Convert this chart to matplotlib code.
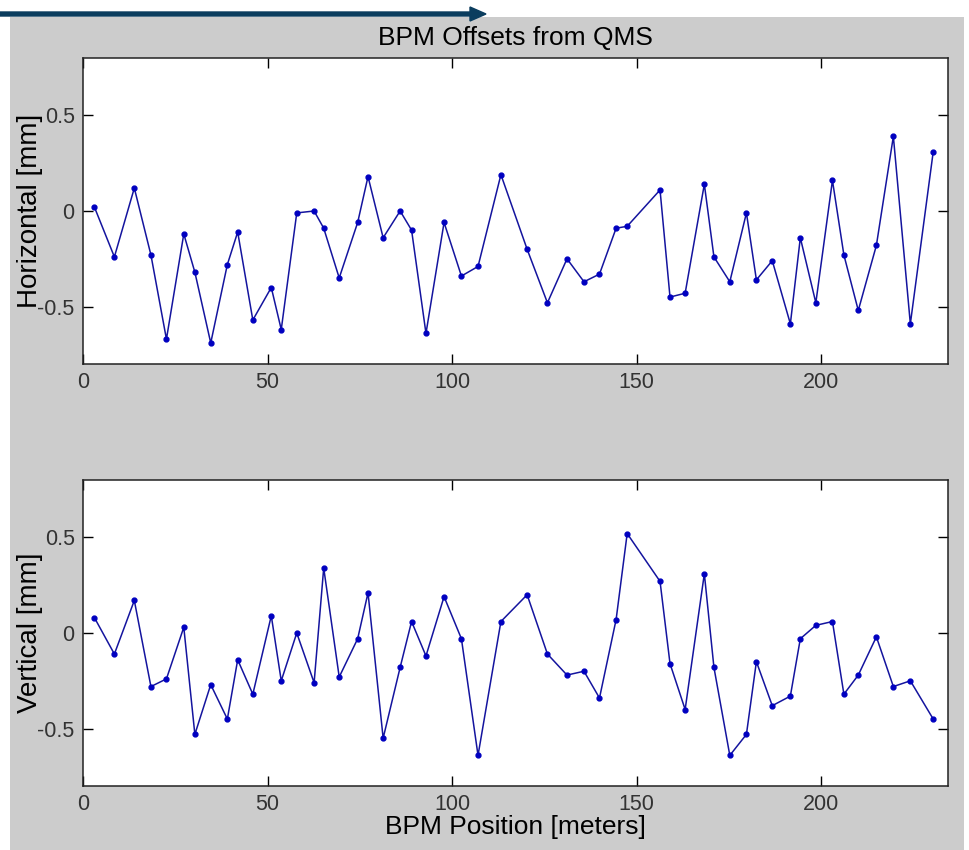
import numpy as np
import matplotlib
matplotlib.use('Agg')
import matplotlib.pyplot as plt
from matplotlib.patches import Rectangle, FancyArrow

plt.rcParams['font.family'] = ['Liberation Sans', 'DejaVu Sans']

# BPM positions along the line [m]
bpm_pos = [3.1, 8.5, 13.9, 18.4, 22.6, 27.3, 30.3, 34.6, 39.1, 41.9,
           46.0, 51.0, 53.7, 57.9, 62.6, 65.2, 69.4, 74.4, 77.2, 81.3,
           85.9, 89.0, 92.9, 97.8, 102.5, 107.0, 113.2, 120.3, 125.8, 131.1,
           135.7, 139.9, 144.4, 147.4, 156.3, 159.0, 163.1, 168.3, 170.9, 175.2,
           179.7, 182.4, 186.7, 191.6, 194.3, 198.5, 203.0, 206.1, 210.0, 214.9,
           219.5, 224.1, 230.3]

# offsets from quad shunting [mm]
horiz = [0.02, -0.24, 0.12, -0.23, -0.67, -0.12, -0.32, -0.69, -0.28, -0.11,
         -0.57, -0.40, -0.62, -0.01, 0.00, -0.09, -0.35, -0.06, 0.18, -0.14,
         0.00, -0.10, -0.64, -0.06, -0.34, -0.29, 0.19, -0.20, -0.48, -0.25,
         -0.37, -0.33, -0.09, -0.08, 0.11, -0.45, -0.43, 0.14, -0.24, -0.37,
         -0.01, -0.36, -0.26, -0.59, -0.14, -0.48, 0.16, -0.23, -0.52, -0.18,
         0.39, -0.59, 0.31]

vert = [0.08, -0.11, 0.17, -0.28, -0.24, 0.03, -0.53, -0.27, -0.45, -0.14,
        -0.32, 0.09, -0.25, 0.00, -0.26, 0.34, -0.23, -0.03, 0.21, -0.55,
        -0.18, 0.06, -0.12, 0.19, -0.03, -0.64, 0.06, 0.20, -0.11, -0.22,
        -0.20, -0.34, 0.07, 0.52, 0.27, -0.16, -0.40, 0.31, -0.18, -0.64,
        -0.53, -0.15, -0.38, -0.33, -0.03, 0.04, 0.06, -0.32, -0.22, -0.02,
        -0.28, -0.25, -0.45]

fig = plt.figure(figsize=(9.7, 8.5), dpi=100)
fig.patch.set_facecolor('white')

# gray matlab-style window background, behind the axes
bg = Rectangle((10/970, 0), 954/970, 1 - 17/850, transform=fig.transFigure,
               facecolor='#cccccc', edgecolor='none', zorder=-5)
fig.patches.append(bg)
# arrow across the top
arr = FancyArrow(0, 1 - 14/850, 470/970, 0, width=4/850, head_width=14/850,
                 head_length=16/970, transform=fig.transFigure,
                 color='#0b3d5e', zorder=-4)
fig.patches.append(arr)

ax1 = fig.add_axes([83/970, 1 - 364/850, 865/970, 306/850])
ax2 = fig.add_axes([83/970, 1 - 786/850, 865/970, 306/850])

for ax, y, lab in [(ax1, horiz, 'Horizontal [mm]'), (ax2, vert, 'Vertical [mm]')]:
    ax.set_zorder(2)
    ax.plot(bpm_pos, y, color='#14149e', linewidth=1.1, marker='.', markersize=7,
            markerfacecolor='#0000c0', markeredgecolor='#0000c0')
    ax.set_xlim(0, 234.3)
    ax.set_ylim(-0.8, 0.8)
    ax.set_xticks([0, 50, 100, 150, 200])
    ax.set_yticks([-0.5, 0, 0.5])
    ax.set_yticklabels(['-0.5', '0', '0.5'])
    ax.tick_params(direction='in', length=7, width=1, top=True, right=True,
                   labelsize=15.5, labelcolor='#333333', pad=6)
    for s in ax.spines.values():
        s.set_linewidth(1.1)
        s.set_color('#222222')
    ax.set_ylabel(lab, fontsize=20, labelpad=-4)

ax1.set_title('BPM Offsets from QMS', fontsize=19, pad=9)
ax2.set_xlabel('BPM Position [meters]', fontsize=19, labelpad=0)

fig.savefig('out.png', dpi=100)
